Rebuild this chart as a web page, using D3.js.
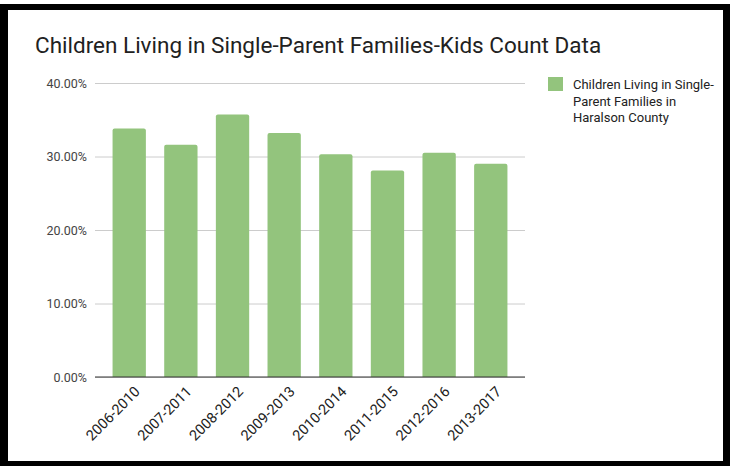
<!DOCTYPE html>
<html>
<head>
<meta charset="utf-8">
<script src="https://cdn.jsdelivr.net/npm/d3@7"></script>
<style>
  body { margin: 0; background: #fff; }
  svg { display: block; font-family: Roboto, "Noto Sans", sans-serif; }
</style>
</head>
<body>
<svg id="chart" width="730" height="466"></svg>
<script>
// chart data
var periods = ["2006-2010", "2007-2011", "2008-2012", "2009-2013", "2010-2014", "2011-2015", "2012-2016", "2013-2017"];
var shares = [0.338, 0.316, 0.357, 0.332, 0.303, 0.281, 0.305, 0.290];
var yTicks = [0, 0.1, 0.2, 0.3, 0.4];
var legendLines = ["Children Living in Single-", "Parent Families in", "Haralson County"];

var svg = d3.select("#chart");
var green = "#93c47d";

// Black frame round the picture
svg.append("rect").attr("x", 0).attr("y", 4).attr("width", 730).attr("height", 6).attr("fill", "#000");
svg.append("rect").attr("x", 0).attr("y", 4).attr("width", 8).attr("height", 462).attr("fill", "#000");
svg.append("rect").attr("x", 0).attr("y", 461).attr("width", 730).attr("height", 5).attr("fill", "#000");
svg.append("rect").attr("x", 723).attr("y", 4).attr("width", 7).attr("height", 462).attr("fill", "#000");

// Title
svg.append("text")
    .attr("x", 35)
    .attr("y", 53)
    .style("font-size", "22.5px")
    .style("fill", "#212121")
    .text("Children Living in Single-Parent Families-Kids Count Data");

// Scales
var x = d3.scaleBand().domain(periods).range([95, 525]).paddingInner(0.355).paddingOuter(0.34);
var y = d3.scaleLinear().domain([0, 0.4]).range([377, 83]);

// Grid + y labels
var yAxis = svg.append("g")
    .attr("transform", "translate(95,0)")
    .call(d3.axisLeft(y).tickValues(yTicks).tickFormat(d3.format(".2%")).tickSize(-430).tickPadding(8));
yAxis.select(".domain").remove();
yAxis.selectAll(".tick line").attr("stroke", "#cccccc");
yAxis.selectAll(".tick text").style("font-size", "12.5px").style("fill", "#444").style("font-family", "Roboto, sans-serif");

// Bars with slightly rounded tops
var r = 2;
svg.append("g").selectAll("path")
    .data(shares)
    .join("path")
    .attr("fill", green)
    .attr("d", function(d, i) {
        var x0 = x(periods[i]), w = x.bandwidth(), top = y(d), bot = y(0);
        return "M" + x0 + "," + bot + "V" + (top + r) + "Q" + x0 + "," + top + " " + (x0 + r) + "," + top +
               "H" + (x0 + w - r) + "Q" + (x0 + w) + "," + top + " " + (x0 + w) + "," + (top + r) + "V" + bot + "Z";
    });

// Baseline
svg.append("line")
    .attr("x1", 95).attr("x2", 525)
    .attr("y1", y(0)).attr("y2", y(0))
    .attr("stroke", "#333").attr("stroke-width", 1);

// X labels, rotated
svg.append("g").selectAll("text")
    .data(periods)
    .join("text")
    .attr("transform", function(d) { return "translate(" + (x(d) + x.bandwidth() / 2 + 8) + ",389) rotate(-45)"; })
    .attr("text-anchor", "end")
    .attr("dy", "0.35em")
    .style("font-size", "14.5px")
    .style("fill", "#222")
    .text(function(d) { return d; });

// Legend
svg.append("rect").attr("x", 548).attr("y", 77).attr("width", 15).attr("height", 14).attr("fill", green);
svg.append("g").selectAll("text")
    .data(legendLines)
    .join("text")
    .attr("x", 573)
    .attr("y", function(d, i) { return 89 + i * 16.5; })
    .style("font-size", "13px")
    .style("fill", "#222")
    .text(function(d) { return d; });
</script>
</body>
</html>
